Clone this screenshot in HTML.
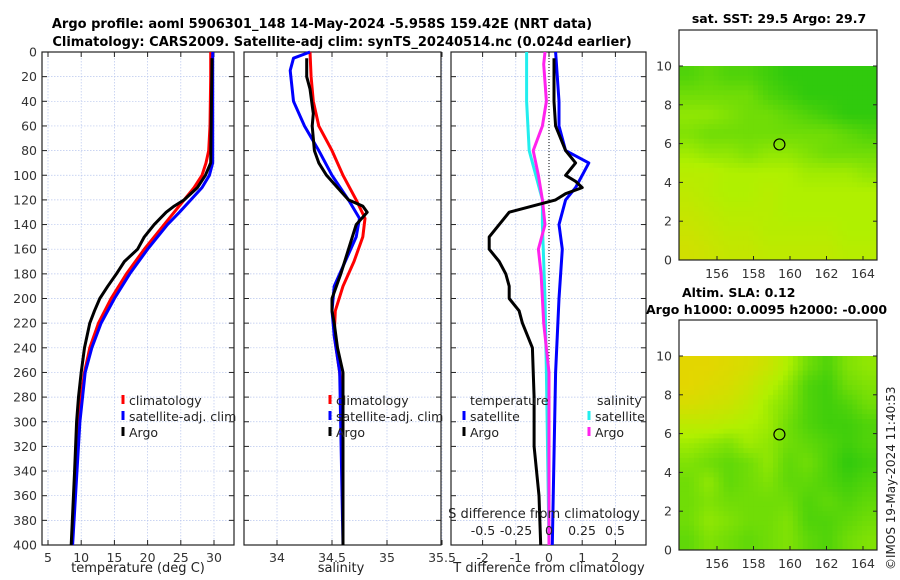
<!DOCTYPE html>
<html><head><meta charset="utf-8"><style>
body{margin:0;background:#fff;}
svg{display:block;font-family:"DejaVu Sans","Liberation Sans",sans-serif;}
</style></head><body>
<svg id="fig" width="900" height="580" viewBox="0 0 900 580">
<text x="322" y="28" font-size="13" font-weight="bold" text-anchor="middle">Argo profile: aoml 5906301_148 14-May-2024 -5.958S 159.42E (NRT data)</text>
<text x="342" y="46" font-size="13" font-weight="bold" text-anchor="middle">Climatology: CARS2009. Satellite-adj clim: synTS_20240514.nc (0.024d earlier)</text>
<text x="779" y="23" font-size="12.5" font-weight="bold" text-anchor="middle">sat. SST: 29.5 Argo: 29.7</text>
<text x="682" y="297" font-size="12.5" font-weight="bold">Altim. SLA: 0.12</text>
<text x="646" y="314" font-size="12.5" font-weight="bold">Argo h1000: 0.0095 h2000: -0.000</text>
<text transform="translate(895,570) rotate(-90)" font-size="12" fill="#222">©IMOS 19-May-2024 11:40:53</text>
<g id="layer"></g>
</svg>
<script>
// ---- data ----
const depthLevels=[0,20,40,60,80,100,120,140,160,180,200,220,240,260,280,300,320,340,360,380,400];
const tempTicks=[5,10,15,20,25,30];
const salTicks=[34,34.5,35,35.5];
const salTickLabels=["34","34.5","35","35.5"];
const tdiffTicks=[-2,-1,0,1,2];
const sdiffTicks=[-0.5,-0.25,0,0.25,0.5];
const sdiffTickLabels=["-0.5","-0.25","0","0.25","0.5"];
const mapYTicks=[0,2,4,6,8,10];
const mapXTicks=[156,158,160,162,164];

const tClimDepth=[0,20,60,80,90,100,110,120,130,140,160,180,200,220,240,260,280,300,340,400];
const tClimVal=[29.5,29.5,29.4,29.2,28.8,28.2,27.0,25.5,24.0,22.5,19.5,16.8,14.5,12.6,11.3,10.5,10.0,9.6,9.1,8.6];
const tSatDepth=[0,90,100,110,120,130,140,160,180,200,220,240,260,300,400];
const tSatVal=[29.8,29.8,29.3,28.2,26.5,24.8,23.0,20.0,17.3,15.0,13.0,11.6,10.6,9.8,8.7];
const tArgoDepth=[5,90,100,110,120,125,130,140,150,160,170,180,190,200,210,220,240,260,280,300,340,400];
const tArgoVal=[29.7,29.5,28.7,27.5,25.5,24.0,22.8,21.0,19.5,18.5,16.5,15.3,14.0,12.8,12.0,11.3,10.5,10.0,9.6,9.3,9.0,8.5];

const sClimDepth=[0,20,40,60,80,100,120,135,150,170,190,210,230,260,300,400];
const sClimVal=[34.3,34.31,34.33,34.38,34.5,34.6,34.72,34.8,34.78,34.7,34.6,34.53,34.52,34.57,34.6,34.6];
const sSatDepth=[0,5,15,40,60,80,100,120,135,150,170,190,210,230,260,400];
const sSatVal=[34.3,34.15,34.12,34.15,34.25,34.38,34.5,34.65,34.75,34.72,34.62,34.52,34.5,34.52,34.57,34.6];
const sArgoDepth=[5,20,30,50,60,80,90,100,110,120,125,130,140,160,180,200,210,220,240,260,300,400];
const sArgoVal=[34.27,34.27,34.3,34.33,34.32,34.34,34.38,34.45,34.55,34.65,34.78,34.82,34.72,34.65,34.58,34.5,34.5,34.52,34.55,34.6,34.6,34.6];

const dTSatDepth=[0,40,60,80,90,100,110,120,140,160,200,260,400];
const dTSatVal=[0.2,0.3,0.3,0.5,1.2,1.0,0.8,0.5,0.3,0.4,0.3,0.2,0.1];
const dTArgoDepth=[5,40,60,80,90,100,105,110,115,120,125,130,140,150,160,170,180,190,200,210,220,240,280,320,360,400];
const dTArgoVal=[0.15,0.15,0.2,0.5,0.8,0.5,0.8,1.0,0.5,0.2,-0.5,-1.2,-1.5,-1.8,-1.8,-1.5,-1.3,-1.2,-1.2,-0.9,-0.8,-0.5,-0.45,-0.45,-0.3,-0.25];
const dSSatDepth=[0,40,80,100,120,140,200,260,400];
const dSSatVal=[-0.17,-0.17,-0.15,-0.1,-0.05,-0.05,-0.03,-0.02,0.0];
const dSArgoDepth=[0,10,40,60,80,100,120,140,160,180,200,220,260,300,400];
const dSArgoVal=[-0.03,-0.04,-0.02,-0.05,-0.12,-0.08,-0.05,-0.03,-0.08,-0.06,-0.05,-0.04,0.0,0.0,0.0];

const sstGrid=[
[0.2,0.25,0.2,0.2,0.15,0.1,0.1,0.1,0.1,0.1],
[0.3,0.3,0.3,0.3,0.2,0.15,0.1,0.1,0.1,0.1],
[0.4,0.4,0.35,0.3,0.3,0.25,0.2,0.15,0.1,0.1],
[0.35,0.3,0.3,0.3,0.3,0.3,0.3,0.3,0.25,0.2],
[0.45,0.4,0.4,0.35,0.4,0.4,0.35,0.3,0.3,0.3],
[0.55,0.55,0.5,0.5,0.5,0.5,0.45,0.45,0.45,0.4],
[0.6,0.55,0.5,0.5,0.55,0.5,0.5,0.5,0.5,0.5],
[0.65,0.6,0.55,0.55,0.55,0.5,0.5,0.5,0.5,0.5],
[0.7,0.65,0.6,0.6,0.55,0.55,0.55,0.55,0.5,0.5],
[0.75,0.7,0.65,0.65,0.6,0.6,0.6,0.6,0.55,0.55]];
const slaGrid=[
[0.9,0.9,0.85,0.8,0.7,0.5,0.3,0.2,0.35,0.4],
[0.9,0.85,0.8,0.7,0.55,0.4,0.2,0.15,0.3,0.35],
[0.8,0.75,0.7,0.6,0.45,0.35,0.2,0.15,0.2,0.3],
[0.6,0.6,0.55,0.5,0.45,0.3,0.2,0.15,0.15,0.2],
[0.45,0.4,0.35,0.45,0.4,0.3,0.25,0.2,0.15,0.2],
[0.35,0.3,0.25,0.3,0.4,0.25,0.3,0.2,0.1,0.15],
[0.3,0.4,0.25,0.3,0.35,0.25,0.25,0.2,0.15,0.2],
[0.3,0.35,0.3,0.3,0.3,0.3,0.2,0.25,0.2,0.25],
[0.3,0.4,0.35,0.3,0.3,0.35,0.2,0.2,0.25,0.3],
[0.25,0.35,0.3,0.25,0.3,0.35,0.25,0.2,0.3,0.35]];
const argoLon=159.42, argoLat=5.958;

// ---- helpers ----
const NS="http://www.w3.org/2000/svg";
const L=document.getElementById('layer');
function mk(tag,attrs,parent){const e=document.createElementNS(NS,tag);for(const k in attrs)e.setAttribute(k,attrs[k]);(parent||L).appendChild(e);return e;}
const TOP=52,BOT=545;
const yD=d=>TOP+d*(BOT-TOP)/400;
function lin(d0,d1,p0,p1){return v=>p0+(v-d0)*(p1-p0)/(d1-d0);}
const xT=lin(5,30,48,214);
const xS=lin(34,35,277,387);
const xDT=lin(0,1,549,582.2);
const xDS=lin(0,0.5,549,615);

function panel(name,x0,x1,xfn,ticks,labels,showY){
  const g=mk('g',{});
  
  
  depthLevels.forEach(d=>{
    const l=mk('line',{x1:x0,x2:x1,y1:yD(d),y2:yD(d),stroke:'#b8c6ee','stroke-width':0.7,'stroke-dasharray':'1.5,1.5'},g);
    
    
    mk('line',{x1:x0,x2:x0+5,y1:yD(d),y2:yD(d),stroke:'#222'},g);
    mk('line',{x1:x1,x2:x1-5,y1:yD(d),y2:yD(d),stroke:'#222'},g);
    if(showY){const t=mk('text',{x:x0-5,y:yD(d)+4.5,'font-size':12.5,'text-anchor':'end',fill:'#333'},g);t.textContent=d;
      
      }
  });
  ticks.forEach((v,i)=>{
    const x=xfn(v);
    const l=mk('line',{x1:x,x2:x,y1:TOP,y2:BOT,stroke:'#b8c6ee','stroke-width':0.7,'stroke-dasharray':'1.5,1.5'},g);
    
    
    mk('line',{x1:x,x2:x,y1:BOT,y2:BOT-5,stroke:'#222'},g);
    mk('line',{x1:x,x2:x,y1:TOP,y2:TOP+5,stroke:'#222'},g);
    const t=mk('text',{x:x,y:BOT+17,'font-size':12.5,'text-anchor':'middle',fill:'#333'},g);t.textContent=labels?labels[i]:v;
    
    
  });
  const r=mk('rect',{x:x0,y:TOP,width:x1-x0,height:BOT-TOP,fill:'none',stroke:'#222','stroke-width':1.2},g);
  
  
  return g;
}
function series(name,depths,vals,xfn,color,w){
  const p=mk('polyline',{points:depths.map((d,i)=>xfn(vals[i]).toFixed(1)+','+yD(d).toFixed(1)).join(' '),fill:'none',stroke:color,'stroke-width':w,'stroke-linejoin':'round'});
  
  
}
function txt(name,x,y,s,size,anchor){const t=mk('text',{x:x,y:y,'font-size':size||12.5,'text-anchor':anchor||'start',fill:'#222'});t.textContent=s;
  
  return t;}
function legendEntry(name,x,y,color,label){
  const m=mk('line',{x1:x,x2:x,y1:y-10,y2:y-1,stroke:color,'stroke-width':3});
  
  
  txt(name,x+6,y,label);
}

// panel 1
panel('temperature-panel',42,234,xT,tempTicks,null,true);
series('temp-climatology-line',tClimDepth,tClimVal,xT,'#ff0000',3);
series('temp-satellite-line',tSatDepth,tSatVal,xT,'#0000ff',3);
series('temp-argo-line',tArgoDepth,tArgoVal,xT,'#000',3);
txt('temperature-axis-title',138,572,'temperature (deg C)',13,'middle');
legendEntry('legend-climatology',123,405,'#ff0000','climatology');
legendEntry('legend-satellite-adj',123,421,'#0000ff','satellite-adj. clim');
legendEntry('legend-argo',123,437,'#000','Argo');

// panel 2
panel('salinity-panel',244,441,xS,salTicks,salTickLabels,false);
series('sal-climatology-line',sClimDepth,sClimVal,xS,'#ff0000',3);
series('sal-satellite-line',sSatDepth,sSatVal,xS,'#0000ff',3);
series('sal-argo-line',sArgoDepth,sArgoVal,xS,'#000',3);
txt('salinity-axis-title',341,572,'salinity',13,'middle');
legendEntry('legend-sal-climatology',330,405,'#ff0000','climatology');
legendEntry('legend-sal-satellite-adj',330,421,'#0000ff','satellite-adj. clim');
legendEntry('legend-sal-argo',330,437,'#000','Argo');

// panel 3
panel('difference-panel',451,646,xDT,tdiffTicks,null,false);
const zl=mk('line',{x1:xDT(0),x2:xDT(0),y1:TOP,y2:BOT,stroke:'#000','stroke-width':1,'stroke-dasharray':'1,2'});


series('dsal-satellite-line',dSSatDepth,dSSatVal,xDS,'#22eeee',3);
series('dsal-argo-line',dSArgoDepth,dSArgoVal,xDS,'#ff22ee',3);
series('dtemp-satellite-line',dTSatDepth,dTSatVal,xDT,'#0000ff',3);
series('dtemp-argo-line',dTArgoDepth,dTArgoVal,xDT,'#000',3);
txt('t-diff-axis-title',549,572,'T difference from climatology',13,'middle');
txt('s-diff-axis-title',544,518,'S difference from climatology',13,'middle');
sdiffTicks.forEach((v,i)=>txt('s-diff-tick-label',xDS(v),535,sdiffTickLabels[i],12.5,'middle'));
txt('legend-temperature-heading',470,405,'temperature');
txt('legend-salinity-heading',597,405,'salinity');
legendEntry('legend-t-satellite',464,421,'#0000ff','satellite');
legendEntry('legend-t-argo',464,437,'#000','Argo');
legendEntry('legend-s-satellite',589,421,'#22eeee','satellite');
legendEntry('legend-s-argo',589,437,'#ff22ee','Argo');

// maps
function cmap(v){
  const a=[16,192,16],b=[176,240,0],c=[240,208,0];
  let p,q,t;if(v<0.5){p=a;q=b;t=v/0.5;}else{p=b;q=c;t=(v-0.5)/0.5;}
  return 'rgb('+p.map((x,i)=>Math.round(x+(q[i]-x)*t)).join(',')+')';
}
function sample(grid,fr,fc){
  const R=grid.length-1,C=grid[0].length-1;
  fr=Math.max(0,Math.min(R,fr));fc=Math.max(0,Math.min(C,fc));
  const r0=Math.floor(fr),c0=Math.floor(fc),r1=Math.min(R,r0+1),c1=Math.min(C,c0+1);
  const tr=fr-r0,tc=fc-c0;
  return grid[r0][c0]*(1-tr)*(1-tc)+grid[r0][c1]*(1-tr)*tc+grid[r1][c0]*tr*(1-tc)+grid[r1][c1]*tr*tc;
}
function mapPanel(name,grid,yTopFrame,yTop,yBot){
  const x0=679,x1=877;
  const g=mk('g',{});
  
  
  const lonX=lin(156,164,717,863), latY=lin(0,10,yBot,yTop);
  const rows=grid.length,cols=grid[0].length,F=4;
  const cw=(x1-x0)/(cols*F),ch=(yBot-yTop)/(rows*F);
  for(let r=0;r<rows*F;r++)for(let c=0;c<cols*F;c++){
    const v=sample(grid,(r+0.5)/F-0.5,(c+0.5)/F-0.5);
    const cell=mk('rect',{x:(x0+c*cw).toFixed(1),y:(yTop+r*ch).toFixed(1),width:(cw+0.6).toFixed(1),height:(ch+0.6).toFixed(1),fill:cmap(v)},g);
    
    
  }
  const m=mk('circle',{cx:lonX(argoLon),cy:latY(argoLat),r:5.5,fill:'none',stroke:'#000','stroke-width':1.2},g);
  
  
  mapYTicks.forEach(v=>{
    mk('line',{x1:x0,x2:x0+4,y1:latY(v),y2:latY(v),stroke:'#222'},g);
    mk('line',{x1:x1,x2:x1-4,y1:latY(v),y2:latY(v),stroke:'#222'},g);
    const t=mk('text',{x:x0-7,y:latY(v)+4.5,'font-size':12.5,'text-anchor':'end',fill:'#333'},g);t.textContent=v;
    
    
  });
  mapXTicks.forEach(v=>{
    mk('line',{x1:lonX(v),x2:lonX(v),y1:yBot,y2:yBot-4,stroke:'#222'},g);
    const t=mk('text',{x:lonX(v),y:yBot+18,'font-size':12.5,'text-anchor':'middle',fill:'#333'},g);t.textContent=v;
    
    
  });
  mk('rect',{x:x0,y:yTopFrame,width:x1-x0,height:yBot-yTopFrame,fill:'none',stroke:'#222','stroke-width':1.2},g);
}
mapPanel('sst-map',sstGrid,30,66,260);
mapPanel('sla-map',slaGrid,320,356,550);
</script>
</body></html>
